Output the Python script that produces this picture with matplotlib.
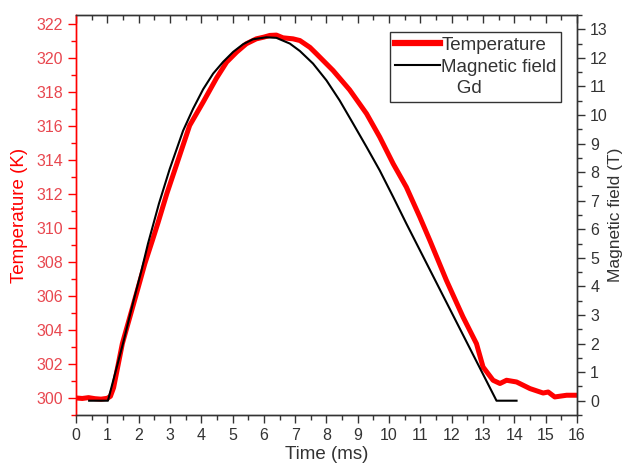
import matplotlib.pyplot as plt
from matplotlib.lines import Line2D
from matplotlib.ticker import MultipleLocator

plt.rcParams['font.family'] = ['Liberation Sans', 'DejaVu Sans']

# temperature (K) vs time (ms)
t_temp = [0.0, 0.2, 0.4, 0.6, 0.8, 1.0, 1.1, 1.2, 1.48, 1.96, 2.2, 2.44, 2.62, 2.9,
          3.21, 3.63, 4.06, 4.49, 4.81, 5.13, 5.44, 5.76, 6.0, 6.19, 6.4, 6.61, 6.93,
          7.15, 7.47, 7.68, 8.21, 8.74, 9.28, 9.7, 10.13, 10.55, 10.98, 11.3, 11.83,
          12.36, 12.79, 13.0, 13.32, 13.54, 13.75, 14.07, 14.5, 14.92, 15.08, 15.29,
          15.67, 16.0]
temp = [300.0, 299.97, 300.02, 299.96, 299.93, 299.98, 300.1, 300.6, 303.19, 306.32,
        307.9, 309.26, 310.3, 312.0, 313.7, 316.01, 317.38, 318.8, 319.73, 320.32,
        320.81, 321.1, 321.2, 321.3, 321.32, 321.16, 321.1, 321.0, 320.6, 320.22,
        319.24, 318.1, 316.7, 315.33, 313.76, 312.39, 310.63, 309.26, 306.91, 304.76,
        303.19, 301.82, 301.04, 300.85, 301.04, 300.94, 300.55, 300.29, 300.35,
        300.06, 300.16, 300.16]

# magnetic field (T) vs time (ms)
t_field = [0.42, 1.02, 1.2, 1.5, 1.85, 2.09, 2.3, 2.65, 2.99, 3.42, 3.74, 4.06, 4.38,
           4.7, 5.02, 5.34, 5.65, 6.08, 6.4, 6.83, 7.15, 7.57, 8.0, 8.42, 8.85, 9.28,
           9.7, 10.13, 10.55, 13.43, 14.07]
field = [0.0, 0.0, 0.75, 2.0, 3.55, 4.55, 5.5, 6.9, 8.1, 9.45, 10.22, 10.9, 11.45,
         11.86, 12.21, 12.48, 12.65, 12.72, 12.7, 12.5, 12.24, 11.8, 11.21, 10.51,
         9.7, 8.88, 8.06, 7.13, 6.2, 0.0, 0.0]

red = '#ff0000'
tick_red = '#e8474f'
grey = '#333333'

fig = plt.figure(figsize=(6.26, 4.63), dpi=100)
ax = fig.add_axes([0.1214, 0.1037, 0.8003, 0.8639])
ax2 = ax.twinx()

ax.plot(t_temp, temp, color=red, linewidth=3.6)
ax2.plot(t_field, field, color='black', linewidth=1.5)

ax.set_xlim(0, 16)
ax.set_ylim(299, 322.5)
ax2.set_ylim(-0.5, 13.5)

ax.xaxis.set_major_locator(MultipleLocator(1))
ax.xaxis.set_minor_locator(MultipleLocator(0.5))
ax.yaxis.set_major_locator(MultipleLocator(2))
ax.yaxis.set_minor_locator(MultipleLocator(1))
ax2.yaxis.set_major_locator(MultipleLocator(1))
ax2.yaxis.set_minor_locator(MultipleLocator(0.5))

ax.tick_params(axis='x', which='both', direction='out', top=True, colors=grey,
               labelsize=11.5, width=1)
ax.tick_params(axis='x', which='major', length=6)
ax.tick_params(axis='x', which='minor', length=3.5)
ax.tick_params(axis='y', which='both', direction='out', colors=red,
               labelcolor=tick_red, labelsize=11.5, width=1)
ax.tick_params(axis='y', which='major', length=6)
ax.tick_params(axis='y', which='minor', length=3.5)
ax2.tick_params(axis='y', which='both', direction='out', colors=grey,
                labelsize=11.5, width=1)
ax2.tick_params(axis='y', which='major', length=6)
ax2.tick_params(axis='y', which='minor', length=3.5)
# top ticks point inward
for tk in ax.xaxis.get_major_ticks() + ax.xaxis.get_minor_ticks():
    tk.tick2line.set_marker(3)

for a in (ax, ax2):
    for s in a.spines.values():
        s.set_color(grey)
        s.set_linewidth(1)
ax2.spines['left'].set_color(red)
ax.spines['left'].set_color(red)

ax.set_xlabel('Time (ms)', fontsize=13.5, color=grey, labelpad=2)
ax.set_ylabel('Temperature (K)', fontsize=13.5, color=red, labelpad=6)
ax2.set_ylabel('Magnetic field (T)', fontsize=12.5, color=grey, labelpad=0)

handles = [Line2D([], [], color=red, linewidth=4.5),
           Line2D([], [], color='black', linewidth=1.5),
           Line2D([], [], color='none')]
labels = ['Temperature', 'Magnetic field', '   Gd']
leg = ax2.legend(handles, labels, loc='upper right', bbox_to_anchor=(0.969, 0.9575),
                 fontsize=13.5, frameon=True, fancybox=False, borderpad=0.25,
                 handlelength=2.4, handletextpad=0.1, labelspacing=0.25,
                 borderaxespad=0)
leg.get_frame().set_edgecolor('black')
leg.get_frame().set_linewidth(1)
for txt in leg.get_texts():
    txt.set_color(grey)

fig.savefig('out.png', dpi=100)
